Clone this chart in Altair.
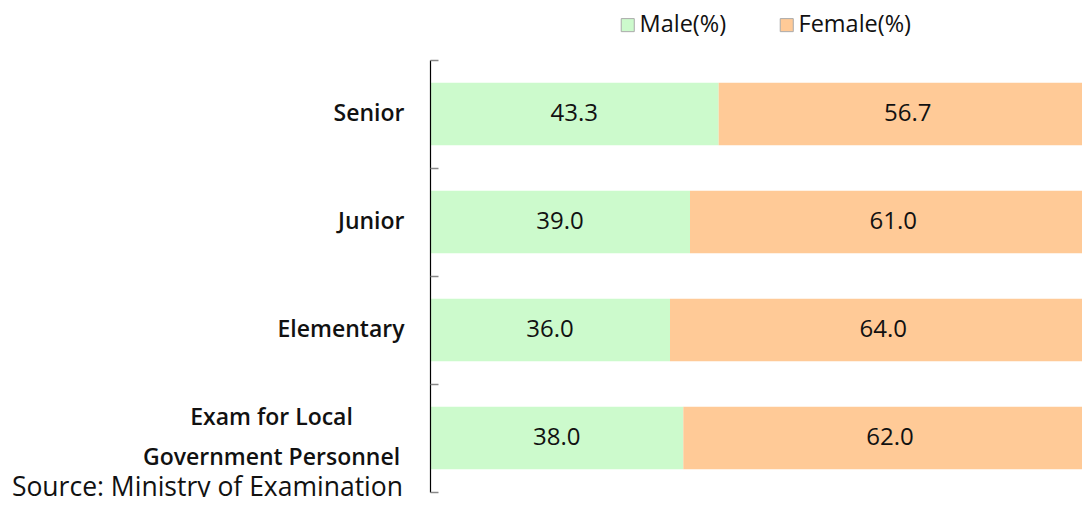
import altair as alt
import pandas as pd

categories = ["Senior", "Junior", "Elementary", "Exam for Local Government Personnel"]
male = [43.3, 39.0, 36.0, 38.0]
female = [56.7, 61.0, 64.0, 62.0]
series = ["Male(%)", "Female(%)"]
colors = ["#CCFACC", "#FFCA97"]

rows = []
for c, m, f in zip(categories, male, female):
    rows.append({"cat": c, "series": series[0], "value": m, "ord": 0})
    rows.append({"cat": c, "series": series[1], "value": f, "ord": 1})
df = pd.DataFrame(rows)

FONT = "Open Sans"
LONG = "Exam for Local Government Personnel"
IS_LONG = f"datum.value == '{LONG}'"

base = alt.Chart(df).transform_stack(
    stack="value", groupby=["cat"], as_=["v0", "v1"], sort=[{"field": "ord", "order": "ascending"}]
).transform_calculate(mid="(datum.v0 + datum.v1) / 2")

yscale = alt.Scale(domain=categories, paddingInner=0.42, paddingOuter=0.21)
yscale_ticks = alt.Scale(domain=categories, paddingInner=0, paddingOuter=0)
xscale = alt.Scale(domain=[0, 97.8], nice=False, zero=True)

bars = base.mark_bar(clip=True).encode(
    y=alt.Y("cat:N", scale=yscale, sort=categories, title=None,
            axis=alt.Axis(domain=True, domainColor="#000000", domainWidth=1.2,
                          ticks=False, tickSize=0, zindex=2,
                          labelPadding=alt.condition(IS_LONG, alt.value(159), alt.value(26)),
                          labelAlign=alt.condition(IS_LONG, alt.value("center"), alt.value("right")),
                          labelFont=FONT, labelFontSize=23, labelFontWeight=600,
                          labelColor="#111111", labelLineHeight=40, labelLimit=400,
                          labelOffset=alt.condition(IS_LONG, alt.value(-20), alt.value(0)),
                          labelExpr=f"{IS_LONG} ? ['Exam for Local', 'Government Personnel'] : datum.label",
                          grid=False)),
    x=alt.X("v0:Q", scale=xscale, axis=None),
    x2="v1:Q",
    color=alt.Color("series:N", scale=alt.Scale(domain=series, range=colors),
                    legend=alt.Legend(title=None, orient="none", legendX=186, legendY=-47,
                                      direction="horizontal", symbolType="square",
                                      symbolSize=170, symbolStrokeColor="#aaaaaa",
                                      symbolStrokeWidth=1, labelFont=FONT, labelFontSize=23.5,
                                      labelFontWeight=500,
                                      labelColor="#111111", columnPadding=48, labelOffset=0)),
)

labels = base.mark_text(font=FONT, fontSize=24, fontWeight=500, color="#111111",
                        baseline="middle", align="center").encode(
    y=alt.Y("cat:N", scale=yscale_ticks, sort=categories, title=None,
            axis=alt.Axis(orient="left", offset=-8, domain=False, labels=False, ticks=True,
                          tickSize=8, tickColor="#888888", tickWidth=1.5, tickBand="extent",
                          zindex=2, grid=False)),
    x=alt.X("mid:Q", scale=xscale, axis=None),
    text=alt.Text("value:Q", format=".1f"),
)

source = alt.Chart(pd.DataFrame({"t": ["Source: Ministry of Examination"]})).mark_text(
    font=FONT, fontSize=26.5, color="#111111", align="right", baseline="alphabetic"
).encode(x=alt.value(-27), y=alt.value(436), text="t:N")

chart = alt.layer(bars, labels, source).resolve_scale(y="independent").resolve_axis(y="independent").properties(
    width=652, height=432,
    autosize=alt.AutoSizeParams(type="none"),
    padding={"left": 422, "top": 52, "right": 0, "bottom": 5},
).configure_view(stroke=None)

chart.save("out.html", embed_options={"renderer": "svg", "actions": False})
